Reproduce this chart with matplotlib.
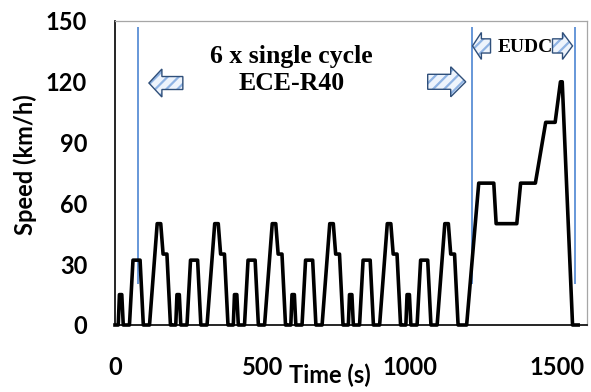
import matplotlib
matplotlib.use("Agg")
import matplotlib.pyplot as plt
from matplotlib.patches import FancyArrow

# one ECE-R40 urban cycle (s, km/h), repeated six times
ece_time = [0, 11, 15, 23, 28, 49, 61, 85, 96, 117, 143, 155, 163, 176, 188, 195]
ece_speed = [0, 0, 15, 15, 0, 0, 32, 32, 0, 0, 50, 50, 35, 35, 0, 0]
cycle_starts = [0, 195, 390, 585, 780, 975]

# extra-urban part (EUDC), time relative to its start
eudc_start = 1170
eudc_time = [0, 22, 63, 114, 122, 192, 205, 255, 290, 322, 340, 346, 381, 400]
eudc_speed = [0, 0, 70, 70, 50, 50, 70, 70, 100, 100, 120, 120, 0, 0]

# blue marker lines
marker_times = [78, 1210, 1561]

x_ticks = [0, 500, 1000, 1500]
y_ticks = [0, 30, 60, 90, 120, 150]


def build_profile():
    t, v = [], []
    for start in cycle_starts:
        t += [start + s for s in ece_time]
        v += ece_speed
    t += [eudc_start + s for s in eudc_time]
    v += eudc_speed
    return t, v


def hatched_arrow(ax, x, y, dx, body, head, head_len):
    kw = dict(width=body, head_width=head, head_length=head_len,
              length_includes_head=True, clip_on=False)
    ax.add_patch(FancyArrow(x, y, dx, 0, facecolor='#eef4fc', edgecolor='#8fb3e3',
                            hatch='///', lw=0, zorder=4, **kw))
    ax.add_patch(FancyArrow(x, y, dx, 0, facecolor='none', edgecolor='#2f4f7a',
                            lw=1.0, zorder=5, **kw))


def main():
    plt.rcParams['hatch.linewidth'] = 1.6
    fig = plt.figure(figsize=(5.91, 3.92), dpi=100)
    ax = fig.add_axes([115/591, 1 - 325/392, 472/591, 304/392])

    t, v = build_profile()
    ax.plot(t, v, color='black', lw=2.6, solid_joinstyle='round', clip_on=False, zorder=3)

    ax.vlines(marker_times, 20, 147, color='#5b8fd6', lw=1.3, zorder=2)

    ax.set_xlim(0, 1600)
    ax.set_ylim(0, 150)
    ax.set_xticks(x_ticks)
    ax.set_yticks(y_ticks)

    tick_font = dict(family='Lato', weight='bold', size=17)
    ax.set_xticklabels([str(x) for x in x_ticks], **tick_font)
    ax.set_yticklabels([str(y) for y in y_ticks], **tick_font)
    ax.tick_params(axis='both', length=0)
    ax.tick_params(axis='x', pad=22)
    ax.tick_params(axis='y', pad=20)

    for side in ['left', 'bottom']:
        ax.spines[side].set_color('black')
        ax.spines[side].set_linewidth(1.2)
    for side in ['top', 'right']:
        ax.spines[side].set_color('#a6a6a6')
        ax.spines[side].set_linewidth(0.9)

    ax.set_ylabel('Speed (km/h)', ha='center', va='center', rotation_mode='default', **tick_font)
    ax.yaxis.set_label_coords(-0.1907, 0.526)
    ax.set_xlabel('Time (s)', ha='center', va='center', **tick_font)
    ax.xaxis.set_label_coords(0.4555, -0.165)

    serif = dict(family='Liberation Serif', weight='bold')
    ax.text(599, 125.8, '6 x single cycle\nECE-R40', ha='center', va='center',
            linespacing=1.2, fontsize=18.5, **serif)
    ax.text(1392, 136.7, 'EUDC', ha='center', va='center', fontsize=14, **serif)

    hatched_arrow(ax, 230, 119.4, -115, 6.4, 13.8, 44)
    hatched_arrow(ax, 1060, 120, 129, 7.4, 14.8, 51)
    hatched_arrow(ax, 1273, 137.7, -61, 7.0, 13.3, 30)
    hatched_arrow(ax, 1483, 137.7, 68, 7.0, 13.3, 34)

    fig.savefig('out.png', dpi=100)
    plt.close(fig)


if __name__ == "__main__":
    main()
